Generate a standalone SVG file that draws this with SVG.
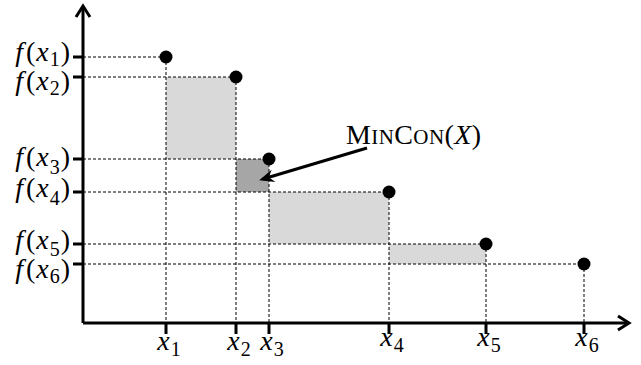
<svg xmlns="http://www.w3.org/2000/svg" width="641" height="365" viewBox="0 0 641 365">
<style>
  .axis { stroke: #000; stroke-width: 3; fill: none; }
  .tick { stroke: #000; stroke-width: 3; }
  .dash { stroke: #000; stroke-width: 1; stroke-dasharray: 3 2; fill: none; }
  .light { fill: #d9d9d9; }
  .dark { fill: #a6a6a6; }
  .dot { fill: #000; }
  text { font-family: "Liberation Serif", "DejaVu Serif", serif; font-size: 28px; fill: #000; }
  .it { font-style: italic; }
  .sub { font-size: 20px; }
  .sc { font-size: 21px; }
</style>
<defs>
  <marker id="stealth" markerUnits="userSpaceOnUse" markerWidth="20" markerHeight="16" viewBox="-12 -8 20 16" refX="0" refY="0" orient="auto">
    <path d="M4,0 L-11,-6.5 L-6,0 L-11,6.5 Z" fill="#000"/>
  </marker>
</defs>
<rect width="641" height="365" fill="#fff"/>
<g id="regions">
  <rect class="light" x="166" y="77" width="70" height="82"/>
  <rect class="dark" x="236" y="159" width="33" height="33"/>
  <rect class="light" x="269" y="192" width="120" height="52"/>
  <rect class="light" x="389" y="244" width="97" height="20"/>
</g>
<g id="guides">
  <path class="dash" d="M83,57H166M83,77H236M83,159H269M83,192H389M83,244H486M83,264H584"/>
  <path class="dash" d="M166,57V323M236,77V323M269,159V323M389,192V323M486,244V323M584,264V323"/>
</g>
<g id="axes">
  <path class="axis" d="M83,323V7M83,323H628"/>
  <path class="axis" d="M76,17L83,6L90,17"/>
  <path class="axis" d="M618,316L629,323L618,330"/>
  <path class="tick" d="M73,57H83M73,77H83M73,159H83M73,192H83M73,244H83M73,264H83"/>
  <path class="tick" d="M166,323V334M236,323V334M269,323V334M389,323V334M486,323V334M584,323V334"/>
</g>
<g id="points">
  <circle id="p1" class="dot" cx="166" cy="57" r="6.5"/>
  <circle id="p2" class="dot" cx="236" cy="77" r="6.5"/>
  <circle id="p3" class="dot" cx="269" cy="159" r="6.5"/>
  <circle id="p4" class="dot" cx="389" cy="192" r="6.5"/>
  <circle id="p5" class="dot" cx="486" cy="244" r="6.5"/>
  <circle id="p6" class="dot" cx="584" cy="264" r="6.5"/>
</g>
<g id="ylabels" text-anchor="end">
  <text x="70" y="61"><tspan class="it">f</tspan><tspan dx="3">(</tspan><tspan class="it" dx="1">x</tspan><tspan class="sub" dx="1" dy="5">1</tspan><tspan dx="1" dy="-5">)</tspan></text>
  <text x="70" y="90"><tspan class="it">f</tspan><tspan dx="3">(</tspan><tspan class="it" dx="1">x</tspan><tspan class="sub" dx="1" dy="5">2</tspan><tspan dx="1" dy="-5">)</tspan></text>
  <text x="70" y="166"><tspan class="it">f</tspan><tspan dx="3">(</tspan><tspan class="it" dx="1">x</tspan><tspan class="sub" dx="1" dy="8">3</tspan><tspan dx="1" dy="-8">)</tspan></text>
  <text x="70" y="197"><tspan class="it">f</tspan><tspan dx="3">(</tspan><tspan class="it" dx="1">x</tspan><tspan class="sub" dx="1" dy="8">4</tspan><tspan dx="1" dy="-8">)</tspan></text>
  <text x="70" y="249"><tspan class="it">f</tspan><tspan dx="3">(</tspan><tspan class="it" dx="1">x</tspan><tspan class="sub" dx="1" dy="7">5</tspan><tspan dx="1" dy="-7">)</tspan></text>
  <text x="70" y="278"><tspan class="it">f</tspan><tspan dx="3">(</tspan><tspan class="it" dx="1">x</tspan><tspan class="sub" dx="1" dy="5">6</tspan><tspan dx="1" dy="-5">)</tspan></text>
</g>
<g id="xlabels" text-anchor="middle">
  <text x="169" y="350"><tspan class="it">x</tspan><tspan class="sub" dx="1" dy="6">1</tspan></text>
  <text x="239" y="350"><tspan class="it">x</tspan><tspan class="sub" dx="1" dy="6">2</tspan></text>
  <text x="272" y="350"><tspan class="it">x</tspan><tspan class="sub" dx="1" dy="6">3</tspan></text>
  <text x="392" y="346"><tspan class="it">x</tspan><tspan class="sub" dx="1" dy="6">4</tspan></text>
  <text x="489" y="346"><tspan class="it">x</tspan><tspan class="sub" dx="1" dy="6">5</tspan></text>
  <text x="587" y="346"><tspan class="it">x</tspan><tspan class="sub" dx="1" dy="6">6</tspan></text>
</g>
<g id="connectors">
  <line x1="367" y1="148" x2="263" y2="179" stroke="#000" stroke-width="3" marker-end="url(#stealth)"/>
</g>
<g id="mincon-label">
  <text x="346" y="144" textLength="135" lengthAdjust="spacing">M<tspan class="sc">IN</tspan>C<tspan class="sc">ON</tspan>(<tspan class="it">X</tspan>)</text>
</g>
</svg>
